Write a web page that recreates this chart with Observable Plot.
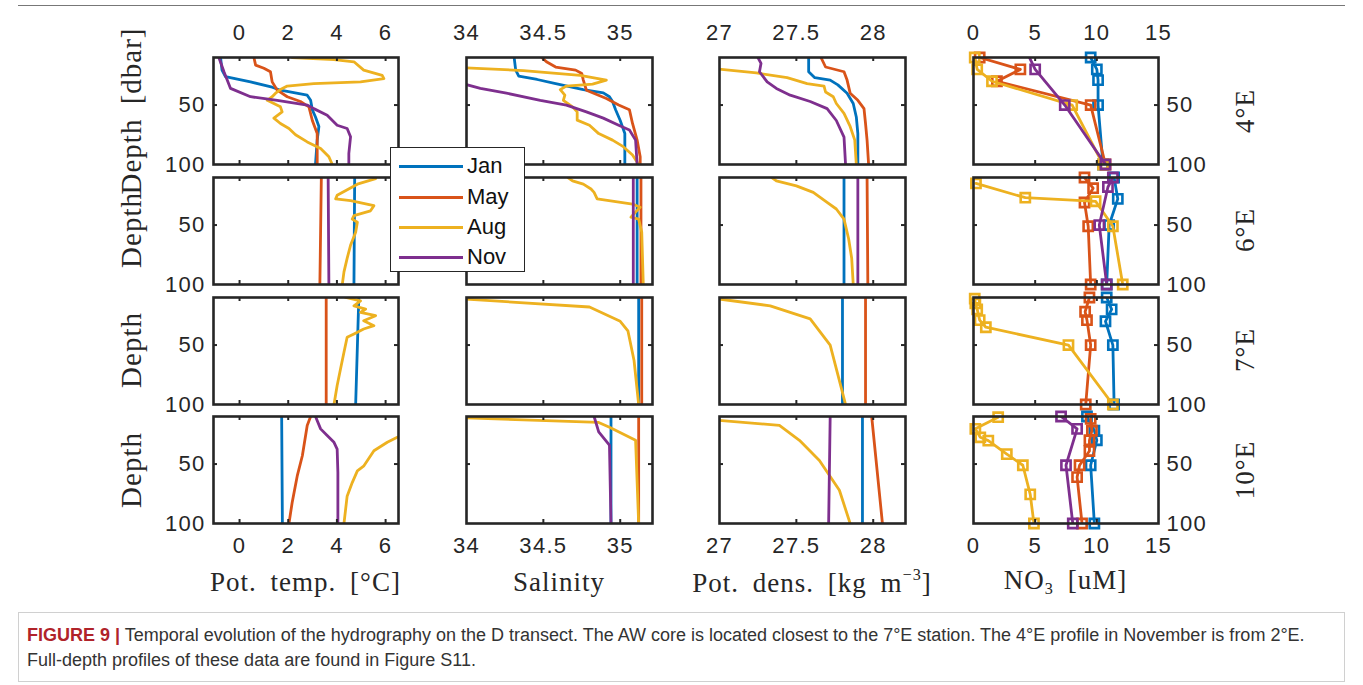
<!DOCTYPE html>
<html><head><meta charset="utf-8">
<script src="https://cdn.jsdelivr.net/npm/d3@7"></script>
<script src="https://cdn.jsdelivr.net/npm/@observablehq/plot@0.6"></script>
<style>
body{margin:0;background:#fff;}
#fig{position:relative;width:1363px;height:685px;overflow:hidden;font-family:"Liberation Sans",Arial,sans-serif;color:#262626;}
.panel{position:absolute;}
.panel svg{max-width:none;overflow:visible;display:block;}
.serif{font-family:"Liberation Serif","Times New Roman",serif;color:#262626;position:absolute;white-space:nowrap;line-height:1;}
.rot{transform:translate(-50%,-50%) rotate(-90deg);}
.ctr{transform:translate(-50%,-50%);}
#legend{position:absolute;left:390px;top:147px;width:133px;height:123px;border:1.5px solid #262626;background:#fff;z-index:5;}
.lg{position:absolute;left:8px;width:64px;height:3px;}
.lt{position:absolute;left:76px;font-size:22px;line-height:1;transform:translateY(-50%);color:#111;}
#caption{position:absolute;left:18px;top:612px;width:1327px;height:70px;border:1px solid #d0d0d0;box-sizing:border-box;padding:10px 0 0 8px;font-size:18px;line-height:25px;color:#333;}
#caption b{color:#b0232a;}
</style></head><body><div id="fig"></div><script>
// ---------- categories ----------
const months = ["Jan", "May", "Aug", "Nov"];
const monthColors = ["#0072BD", "#D95319", "#EDB120", "#7E2F8E"];
const stations = ["4°E", "6°E", "7°E", "10°E"];
// ---------- tick labels ----------
const tempTicks = [0, 2, 4, 6];
const salTicks = [34, 34.5, 35];
const densTicks = [27, 27.5, 28];
const no3Ticks = [0, 5, 10, 15];
const depthTicks = [50, 100];

// ---------- data: [value, depth] ----------
// Potential temperature
const temp4E = {
  Jan: [[-0.78,10],[-0.72,20.6],[-0.58,26],[0.45,30.5],[1.34,35],[1.68,37.5],[2.78,41.7],[2.92,46],[2.99,54],[3.12,60],[3.26,68],[3.19,79.5],[3.12,100]],
  May: [[0.59,10],[0.66,16.4],[1.0,19],[1.27,22],[1.34,30.5],[1.55,37.5],[1.96,43],[2.5,47],[2.85,51.5],[2.99,63],[3.19,74],[3.19,100]],
  Aug: [[2.16,10],[3.88,11.7],[4.7,13.6],[5.1,20.6],[5.86,25],[5.93,27.7],[4.97,30.5],[3.05,32],[1.96,34],[1.68,37],[1.48,40],[1.34,43],[1.14,46],[1.68,51.5],[1.75,55.7],[1.41,61],[1.68,65.5],[2.03,69.7],[2.3,75],[2.78,81],[3.33,86.5],[3.67,93.5],[3.81,100]],
  Nov: [[-0.85,10],[-0.64,22],[-0.37,36],[0.45,43],[1.55,46],[2.78,50],[3.05,53],[3.6,58.5],[4.01,67],[4.42,69.7],[4.56,76.7],[4.49,90.7],[4.49,100]]
};
const temp6E = {
  Jan: [[4.73,10],[4.7,100]],
  May: [[3.36,10],[3.3,100]],
  Aug: [[5.59,11],[4.84,15.6],[4.01,25],[3.95,28],[4.56,29.5],[5.52,33.7],[5.38,38],[4.7,42],[4.63,45],[4.84,47.6],[4.77,56],[4.56,67],[4.42,78],[4.29,89.4],[4.22,100]],
  Nov: [[3.64,10],[3.67,100]]
};
const temp7E = {
  Jan: [[4.9,10],[4.77,100]],
  May: [[3.56,10],[3.56,100]],
  Aug: [[4.36,10],[4.97,12.8],[4.7,17],[5.18,19.7],[4.97,22.5],[5.59,25.3],[5.1,29.5],[5.52,33.7],[5.1,36.5],[4.7,40.7],[4.42,43.5],[4.29,56],[4.15,70],[4.01,84],[3.88,100]],
  Nov: []
};
const temp10E = {
  Jan: [[1.73,10],[1.76,100]],
  May: [[2.92,10],[2.78,17.6],[2.58,43],[2.37,60],[2.16,82.5],[2.03,100]],
  Aug: [[6.9,24],[6.48,27.5],[6.07,31.7],[5.52,38.8],[5.11,51.5],[4.84,55.7],[4.63,65.6],[4.42,77],[4.29,100]],
  Nov: [[3.12,10],[3.33,20.4],[3.6,26],[3.88,31.7],[4.01,37.4],[4.04,57],[4.04,100]]
};
// Salinity
const sal4E = {
  Jan: [[34.31,10],[34.32,20.6],[34.34,25.7],[34.46,28.5],[34.58,32],[34.76,37],[34.89,39.7],[34.93,43],[34.95,47],[34.97,54],[35.0,63],[35.03,74],[35.03,100]],
  May: [[34.49,10],[34.52,13.6],[34.58,18],[34.71,20.6],[34.75,23.5],[34.76,29],[34.78,37.5],[34.91,44.5],[34.99,50],[35.06,54],[35.08,65.5],[35.11,79.5],[35.13,93.5],[35.13,100]],
  Aug: [[33.95,18.5],[34.37,21],[34.74,25],[34.91,29],[34.82,32.4],[34.65,34],[34.61,37],[34.64,41.7],[34.63,46],[34.69,51.5],[34.72,55.7],[34.72,62.7],[34.8,67],[34.86,74],[34.95,79.5],[35.02,85],[35.08,92],[35.12,100]],
  Nov: [[33.95,31],[34.09,36],[34.26,40],[34.48,46],[34.65,50],[34.78,55.7],[34.89,61],[34.99,67],[35.06,71],[35.1,79.5],[35.11,100]]
};
const sal6E = {
  Jan: [[35.11,10],[35.11,100]],
  May: [[35.135,10],[35.135,100]],
  Aug: [[34.66,10],[34.69,12.8],[34.76,15.6],[34.81,19.7],[34.83,22.5],[34.85,28],[35.08,32.3],[35.13,35],[35.1,39],[35.07,43.4],[35.12,45],[35.14,56],[35.15,100]],
  Nov: [[35.085,10],[35.085,100]]
};
const sal7E = {
  Jan: [[35.12,10],[35.12,100]],
  May: [[35.14,10],[35.14,100]],
  Aug: [[33.95,11],[34.8,18],[35.0,30],[35.05,38],[35.09,63],[35.12,100]],
  Nov: []
};
const sal10E = {
  Jan: [[34.94,10],[34.94,100]],
  May: [[35.12,10],[35.12,100]],
  Aug: [[33.95,11],[34.86,15],[34.93,19],[35.1,30],[35.12,100]],
  Nov: [[34.83,10],[34.86,23],[34.93,34],[34.94,100]]
};
// Potential density
const dens4E = {
  Jan: [[27.58,10],[27.58,22],[27.62,27],[27.72,29],[27.77,33],[27.83,40],[27.87,48.7],[27.89,60],[27.9,74],[27.9,100]],
  May: [[27.66,10],[27.69,18],[27.81,22],[27.83,29],[27.85,40],[27.9,46],[27.94,53],[27.95,65.5],[27.96,79.5],[27.97,100]],
  Aug: [[26.98,19.5],[27.24,23],[27.44,27],[27.57,32],[27.68,34],[27.69,39],[27.74,43],[27.76,48.7],[27.81,57],[27.85,68],[27.88,79.5],[27.89,100]],
  Nov: [[27.25,10],[27.27,15],[27.26,22],[27.31,30.5],[27.37,36],[27.46,41.7],[27.59,47],[27.7,53],[27.76,63],[27.81,77],[27.82,100]]
};
const dens6E = {
  Jan: [[27.81,10],[27.81,100]],
  May: [[27.96,10],[27.965,100]],
  Aug: [[27.34,10],[27.37,12.8],[27.5,17],[27.61,22.5],[27.7,31],[27.76,36.5],[27.81,45],[27.84,61.5],[27.86,78],[27.87,100]],
  Nov: [[27.9,10],[27.9,100]]
};
const dens7E = {
  Jan: [[27.8,10],[27.8,100]],
  May: [[27.95,10],[27.95,100]],
  Aug: [[26.98,11],[27.33,17],[27.59,28],[27.72,50],[27.78,80],[27.82,100]],
  Nov: []
};
const dens10E = {
  Jan: [[27.93,10],[27.93,100]],
  May: [[27.99,10],[28.06,100]],
  Aug: [[26.98,13],[27.39,17.5],[27.52,30],[27.65,47],[27.78,72],[27.85,100]],
  Nov: [[27.72,10],[27.71,100]]
};
// Nitrate (bottle samples)
const no34E = {
  Jan: [[9.5,10],[10.0,20],[10.1,29],[10.1,50],[10.5,100]],
  May: [[0.5,10],[3.8,20],[1.9,30],[9.5,50],[10.7,100]],
  Aug: [[0.1,10],[0.3,20],[1.5,30],[8.0,50],[10.5,100]],
  Nov: [[4.3,5],[5.0,20],[7.4,50],[10.7,100]]
};
const no36E = {
  Jan: [[11.4,10],[11.7,28],[11.0,50],[10.8,100]],
  May: [[9.0,10],[9.7,19],[9.0,31],[9.3,51],[9.5,100]],
  Aug: [[0.2,15],[4.2,27],[9.9,30],[11.3,51],[12.1,100]],
  Nov: [[11.3,10],[10.9,18],[10.2,50],[10.8,100]]
};
const no37E = {
  Jan: [[10.8,10],[11.2,20],[10.7,30],[11.3,50],[11.4,100]],
  May: [[9.4,10],[9.05,22],[9.2,29],[9.5,50],[9.1,100]],
  Aug: [[0.1,11],[0.15,15],[0.3,20],[0.5,29],[1.0,35],[7.7,50],[11.3,100]],
  Nov: []
};
const no310E = {
  Jan: [[9.2,10],[9.8,22],[10.0,30],[9.5,51],[9.8,100]],
  May: [[9.5,12],[9.6,22],[9.4,30],[9.4,39],[8.6,51],[8.4,61],[8.8,100]],
  Aug: [[2.0,10.6],[0.15,20.4],[0.55,27.5],[1.2,30.3],[2.7,41.6],[4.0,51],[4.6,75.5],[4.9,100]],
  Nov: [[7.1,10],[8.4,20.4],[7.5,51],[8.05,100]]
};

// ---------- layout / configuration ----------
const depthDomain = [10, 100];
const columns = [
  {panels: [temp4E, temp6E, temp7E, temp10E], domain: [-1.07, 6.53], ticks: tempTicks, markers: false, left: 213, width: 185},
  {panels: [sal4E, sal6E, sal7E, sal10E], domain: [34, 35.21], ticks: salTicks, markers: false, left: 466, width: 186},
  {panels: [dens4E, dens6E, dens7E, dens10E], domain: [27, 28.21], ticks: densTicks, markers: false, left: 719, width: 186},
  {panels: [no34E, no36E, no37E, no310E], domain: [0, 15], ticks: no3Ticks, markers: true, left: 973, width: 185}
];
const rowTops = [57.3, 176.9, 296.5, 416.1];
const panelH = 107;
const ink = "#262626";
const fig = document.getElementById("fig");

function makePanel(ci, ri) {
  const col = columns[ci];
  const src = col.panels[ri];
  const W = col.width, H = panelH;
  const mL = 70, mR = 70, mT = 45, mB = 45;
  const [x0, x1] = col.domain;
  const [d0, d1] = depthDomain;
  const tx = 4 * (x1 - x0) / W, ty = 4 * (d1 - d0) / H;
  const innerX = col.ticks.filter(t => t > x0 + 1e-9 && t < x1 - 1e-9);
  const marks = [];
  months.forEach(m => {
    const rows = (src[m] || []).map(([v, d]) => ({m, v, d}));
    if (!rows.length) return;
    marks.push(Plot.line(rows, {x: "v", y: "d", stroke: "m", strokeWidth: 2.8, clip: true, strokeLinejoin: "round"}));
    if (col.markers) {
      marks.push(Plot.dot(rows.filter(r => r.d >= d0 && r.d <= d1), {x: "v", y: "d", stroke: "m", symbol: "square", r: 5.2, strokeWidth: 2.6, fill: "none"}));
    }
  });
  marks.push(
    Plot.ruleX(innerX, {x: d => d, y1: d0, y2: d0 + ty, stroke: ink, strokeWidth: 2}),
    Plot.ruleX(innerX, {x: d => d, y1: d1 - ty, y2: d1, stroke: ink, strokeWidth: 2}),
    Plot.ruleY(depthTicks.filter(t => t < d1), {y: d => d, x1: x0, x2: x0 + tx, stroke: ink, strokeWidth: 2}),
    Plot.ruleY(depthTicks.filter(t => t < d1), {y: d => d, x1: x1 - tx, x2: x1, stroke: ink, strokeWidth: 2}),
    Plot.frame({stroke: ink, strokeWidth: 2.6})
  );
  const tstyle = {fontSize: 22, fill: ink, fontFamily: "Liberation Sans, Arial, sans-serif"};
  if (ri === 0) marks.push(Plot.text(col.ticks, {x: d => d, frameAnchor: "top", lineAnchor: "bottom", dy: -18, text: d => String(d), ...tstyle}));
  if (ri === 3) marks.push(Plot.text(col.ticks, {x: d => d, frameAnchor: "bottom", lineAnchor: "top", dy: 14, text: d => String(d), ...tstyle}));
  if (ci === 0) marks.push(Plot.text(depthTicks, {y: d => d, frameAnchor: "left", textAnchor: "end", dx: -8, text: d => String(d), ...tstyle}));
  if (ci === 3) marks.push(Plot.text(depthTicks, {y: d => d, frameAnchor: "right", textAnchor: "start", dx: 8, text: d => String(d), ...tstyle}));

  const svg = Plot.plot({
    width: W + mL + mR, height: H + mT + mB,
    marginLeft: mL, marginRight: mR, marginTop: mT, marginBottom: mB,
    x: {domain: col.domain, axis: null},
    y: {domain: depthDomain, reverse: true, axis: null},
    color: {domain: months, range: monthColors},
    style: {background: "transparent", overflow: "visible", fontFamily: "Liberation Sans, Arial, sans-serif", fontSize: "22px", color: ink, letterSpacing: "1.3px"},
    marks
  });
  const div = document.createElement("div");
  div.className = "panel";
  div.style.left = (col.left - mL) + "px";
  div.style.top = (rowTops[ri] - mT) + "px";
  div.appendChild(svg);
  fig.appendChild(div);
}
for (let ci = 0; ci < 4; ci++) for (let ri = 0; ri < 4; ri++) makePanel(ci, ri);

function addText(html, cls, x, y, size, extra) {
  const el = document.createElement("div");
  el.className = "serif " + cls;
  el.style.left = x + "px";
  el.style.top = y + "px";
  el.style.fontSize = size + "px";
  if (extra) Object.assign(el.style, extra);
  el.innerHTML = html;
  fig.appendChild(el);
}
// x-axis titles
const xTitles = ["Pot. temp. [°C]", "Salinity", "Pot. dens. [kg m<sup style='font-size:0.6em;vertical-align:0.75em'>−3</sup>]", "NO<sub style='font-size:0.6em;vertical-align:-0.3em'>3</sub> [uM]"];
columns.forEach((c, i) => addText(xTitles[i], "ctr", c.left + c.width / 2, 582, 27, {letterSpacing: "1px", wordSpacing: "6px"}));
// y-axis titles
const yTitles = ["Depth [dbar]", "Depth", "Depth", "Depth"];
rowTops.forEach((t, i) => addText(yTitles[i], "rot", 131, t + panelH / 2, 29, {letterSpacing: "1px", wordSpacing: "6px"}));
// station labels
rowTops.forEach((t, i) => addText(stations[i], "rot", 1245, t + panelH / 2, 27, {letterSpacing: "1px"}));

// legend
const lg = document.createElement("div");
lg.id = "legend";
const legendY = [18, 49, 79, 109];
months.forEach((m, i) => {
  const l = document.createElement("div");
  l.className = "lg"; l.style.top = (legendY[i] - 1.5) + "px"; l.style.background = monthColors[i];
  const t = document.createElement("div");
  t.className = "lt"; t.style.top = legendY[i] + "px"; t.textContent = m;
  lg.appendChild(l); lg.appendChild(t);
});
fig.appendChild(lg);

// frame line & caption
const topLine = document.createElement("div");
Object.assign(topLine.style, {position: "absolute", left: "18px", top: "5px", width: "1327px", height: "0", borderTop: "1.5px solid #777"});
fig.appendChild(topLine);
const cap = document.createElement("div");
cap.id = "caption";
cap.innerHTML = "<b>FIGURE 9 |</b> Temporal evolution of the hydrography on the D transect. The AW core is located closest to the 7°E station. The 4°E profile in November is from 2°E.<br>Full-depth profiles of these data are found in Figure S11.";
fig.appendChild(cap);
</script></body></html>
